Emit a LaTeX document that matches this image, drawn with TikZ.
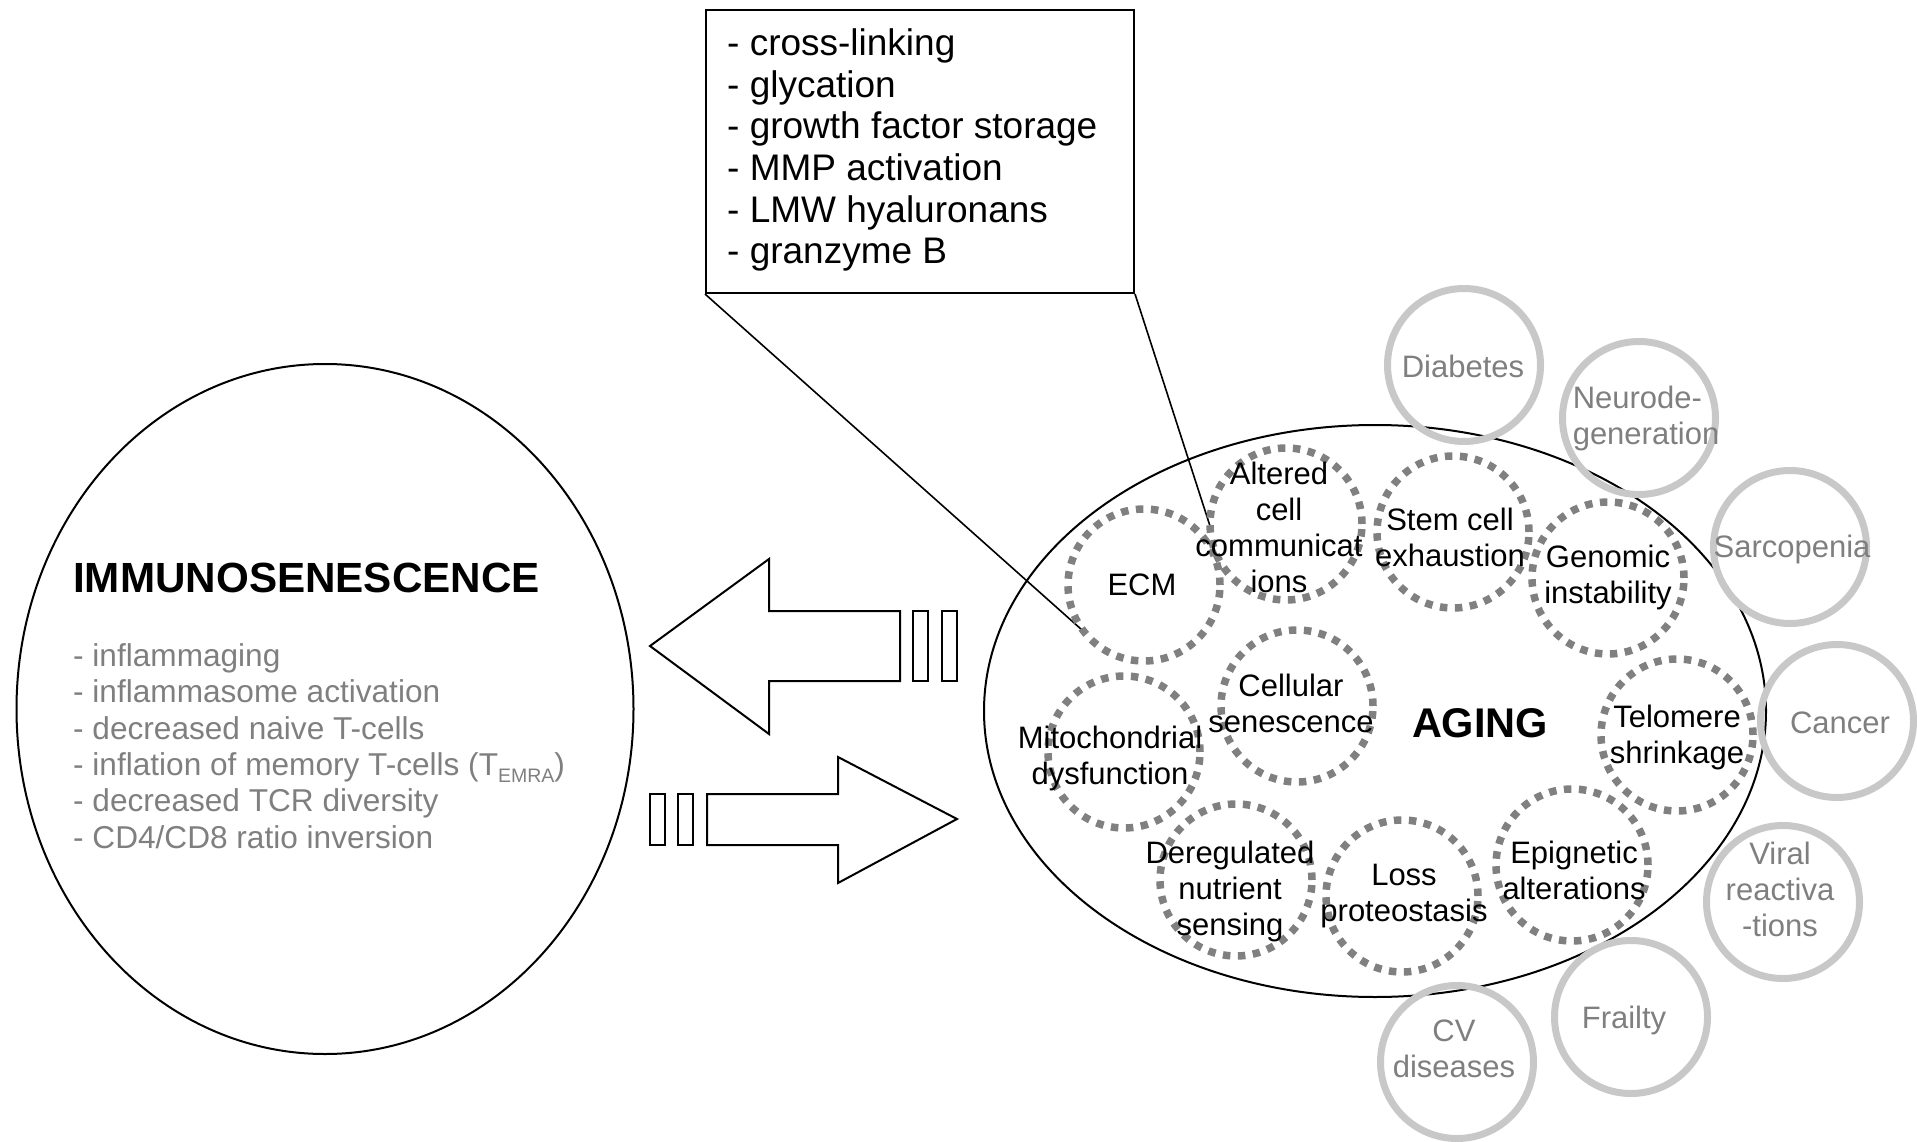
\documentclass[tikz,border=0pt]{standalone}
\usepackage{fontspec}
\setmainfont{Liberation Sans}
\usetikzlibrary{shapes.geometric}
\definecolor{dotgray}{RGB}{128,128,128}
\definecolor{ringgray}{RGB}{200,200,200}
\definecolor{txtgray}{RGB}{127,127,127}
\begin{document}
\begin{tikzpicture}[x=1pt,y=-1pt,
  outline/.style={draw=black, line width=2pt},
  bigell/.style={ellipse, draw=black, line width=2pt, inner sep=0pt},
  hallmark/.style={circle, draw=dotgray, line width=7.5pt, dash pattern=on 7.5pt off 7.5pt, minimum size=152pt, inner sep=0pt},
  ring/.style={circle, draw=ringgray, line width=7pt, minimum size=153pt, inner sep=0pt},
  hmtext/.style={font=\fontsize{31}{36}\selectfont, align=center, inner sep=0pt},
  dztext/.style={hmtext, text=txtgray},
  callline/.style={draw=black, line width=1.6pt}
]
\useasboundingbox (0,0) rectangle (1917,1142);

% big ellipses
\node[bigell, minimum width=617pt, minimum height=690pt] (immuno) at (325,709) {};
\node[bigell, minimum width=782pt, minimum height=572pt] (aging) at (1375,711) {};

% callout box
\node[draw=black, line width=2pt, minimum width=428pt, minimum height=283pt, inner sep=0pt] (box) at (920,151.5) {};
\node[anchor=west, font=\fontsize{37}{41.7}\selectfont, align=left, inner sep=0pt] (boxtext) at (727,150) {- cross-linking\\- glycation\\- growth factor storage\\- MMP activation\\- LMW hyaluronans\\- granzyme B};
\coordinate (ecmpt) at (1082,630);
\coordinate (accpt) at (1210,526);
\draw[callline] (box.south west) -- (ecmpt);
\draw[callline] (box.south east) -- (accpt);

% immunosenescence text
\node[anchor=base west, font=\bfseries\fontsize{42.2}{50}\selectfont, inner sep=0pt] (immtitle) at (73,592) {IMMUNOSENESCENCE};
\node[anchor=west, font=\fontsize{31.6}{36.3}\selectfont, text=txtgray, align=left, inner sep=0pt] (immlist) at (73,746) {- inflammaging\\- inflammasome activation\\- decreased naive T-cells\\- inflation of memory T-cells (T\raisebox{-0.22em}{\fontsize{19.5}{20}\selectfont EMRA})\\- decreased TCR diversity\\- CD4/CD8 ratio inversion};

% arrows
\draw[outline] (650,646) -- (769,559) -- (769,611) -- (900,611) -- (900,681) -- (769,681) -- (769,734) -- cycle;
\draw[outline] (913,611) rectangle (928,681);
\draw[outline] (942,611) rectangle (957,681);
\draw[outline] (957,819) -- (838,757) -- (838,794) -- (707,794) -- (707,845) -- (838,845) -- (838,883) -- cycle;
\draw[outline] (650,794) rectangle (665,845);
\draw[outline] (678,794) rectangle (693,845);

% hallmark circles
\node[hallmark] (c-ecm) at (1144,585) {};
\node[hallmark] (c-acc) at (1286,524) {};
\node[hallmark] (c-stem) at (1453,532) {};
\node[hallmark] (c-gen) at (1608,578) {};
\node[hallmark] (c-cell) at (1297,706) {};
\node[hallmark] (c-mito) at (1124,752) {};
\node[hallmark] (c-telo) at (1677,735) {};
\node[hallmark] (c-dereg) at (1236,880) {};
\node[hallmark] (c-loss) at (1402,896) {};
\node[hallmark] (c-epi) at (1572,865) {};

\node[hmtext] (t-ecm) at (1142,585) {ECM};
\node[hmtext] (t-acc) at (1279,527) {Altered\\cell\\communicat\\ions};
\node[hmtext] (t-stem) at (1450,537) {Stem cell\\exhaustion};
\node[hmtext] (t-gen) at (1608,577) {Genomic\\instability};
\node[hmtext] (t-cell) at (1291,703) {Cellular\\senescence};
\node[hmtext] (t-mito) at (1110,758) {Mitochondrial\\dysfunction};
\node[hmtext] (t-telo) at (1677,737) {Telomere\\shrinkage};
\node[hmtext] (t-dereg) at (1230,891) {Deregulated\\nutrient\\sensing};
\node[hmtext] (t-loss) at (1404,896) {Loss\\proteostasis};
\node[hmtext] (t-epi) at (1574,870) {Epignetic\\alterations};
\node[anchor=base, font=\bfseries\fontsize{41.5}{48}\selectfont, inner sep=0pt] (agingtitle) at (1480,737) {AGING};

% disease rings
\node[ring] (r-diab) at (1464,365) {};
\node[ring] (r-neuro) at (1639,418) {};
\node[ring] (r-sarco) at (1790,547) {};
\node[ring] (r-cancer) at (1837,721) {};
\node[ring] (r-viral) at (1783,902) {};
\node[ring] (r-frail) at (1631,1017) {};
\node[ring] (r-cv) at (1457,1062) {};

\node[dztext] (d-diab) at (1463,366) {Diabetes};
\node[dztext, align=left] (d-neuro) at (1646,418) {Neurode-\\generation};
\node[dztext] (d-sarco) at (1792,549) {Sarcopenia};
\node[dztext] (d-cancer) at (1840,723) {Cancer};
\node[dztext] (d-viral) at (1780,889) {Viral\\reactiva\\-tions};
\node[dztext] (d-frail) at (1624,1020) {Frailty};
\node[dztext] (d-cv) at (1454,1049) {CV\\diseases};
\end{tikzpicture}
\end{document}
